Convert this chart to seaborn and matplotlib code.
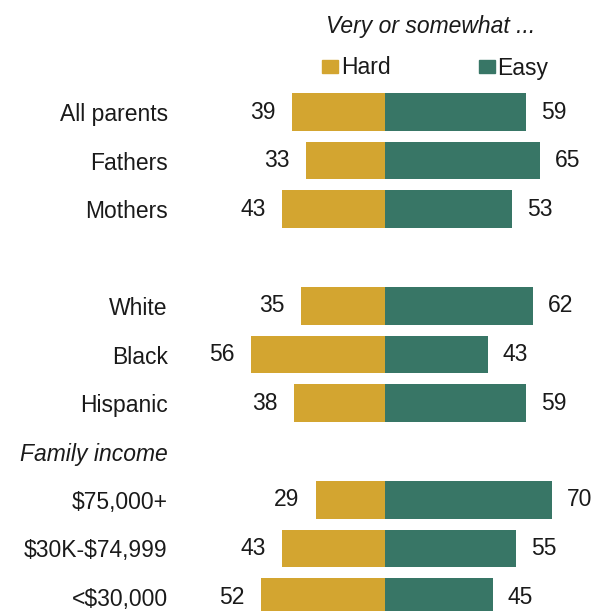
import matplotlib
matplotlib.use("Agg")
import matplotlib.pyplot as plt
import numpy as np
import pandas as pd
import seaborn as sns

# ---- data ----
sections = [
    ["All parents", "Fathers", "Mothers"],
    ["White", "Black", "Hispanic"],
    ["$75,000+", "$30K-$74,999", "<$30,000"],
]
section_titles = ["", "", "Family income"]
hard = [39, 33, 43, 35, 56, 38, 29, 43, 52]
easy = [59, 65, 53, 62, 43, 59, 70, 55, 45]
legend_title = "Very or somewhat ..."
series_names = ["Hard", "Easy"]

HARD_COLOR = "#D3A530"
EASY_COLOR = "#387666"
TEXT_COLOR = "#1a1a1a"
FS = 16.5

sns.set_style("white")
plt.rcParams["font.family"] = ["Liberation Sans", "DejaVu Sans"]
plt.rcParams["text.parse_math"] = False

# row positions: one spacer row before each section after the first
groups, pos, tick_pos, tick_lab, italic_pos = [], [], [], [], []
row = 0
for i, (sec, title) in enumerate(zip(sections, section_titles)):
    if i > 0:
        if title:
            tick_pos.append(row)
            tick_lab.append(title)
            italic_pos.append(row)
        row += 1
    for g in sec:
        groups.append(g)
        pos.append(row)
        tick_pos.append(row)
        tick_lab.append(g)
        row += 1

df = pd.DataFrame({
    "pos": pos * 2,
    "value": [-h for h in hard] + easy,
    "kind": [series_names[0]] * len(hard) + [series_names[1]] * len(easy),
})

W, H = 600, 611
fig = plt.figure(figsize=(W / 100, H / 100), dpi=100)
left_px = 176
ax = fig.add_axes([left_px / W, 0, 1 - left_px / W, 1])

sns.barplot(
    data=df, x="value", y="pos", hue="kind", hue_order=series_names,
    orient="h", native_scale=True, dodge=False,
    palette={series_names[0]: HARD_COLOR, series_names[1]: EASY_COLOR},
    saturation=1, width=0.78, linewidth=0, errorbar=None, legend=False, ax=ax,
)

ppu = 2.39  # pixels per percentage unit
center_px = 385
ax.set_xlim(-(center_px - left_px) / ppu, (W - center_px) / ppu)
row_px, top_px = 48.5, 112
ax.set_ylim((H - top_px) / row_px, -top_px / row_px)

pads = [12.0, 10.8]
for cont, pad in zip(ax.containers, pads):
    ax.bar_label(cont, fmt=lambda v: f"{abs(v):.0f}", padding=pad,
                 fontsize=FS, color=TEXT_COLOR)

ax.set_yticks(tick_pos)
ax.set_yticklabels(tick_lab, fontsize=FS, color=TEXT_COLOR)
for t, p in zip(ax.get_yticklabels(), tick_pos):
    if p in italic_pos:
        t.set_style("italic")
ax.tick_params(axis="y", length=0, pad=6)
ax.set_xticks([])
ax.set_xlabel("")
ax.set_ylabel("")
for s in ax.spines.values():
    s.set_visible(False)

fig.text(431 / W, 1 - 27 / H, legend_title, ha="center", va="center",
         fontsize=FS, style="italic", color=TEXT_COLOR)

handles = [plt.Rectangle((0, 0), 1, 1, color=c) for c in (HARD_COLOR, EASY_COLOR)]
fig.legend(handles, series_names, loc="center left",
           bbox_to_anchor=(322 / W, 1 - 68 / H), ncol=2, frameon=False,
           fontsize=FS, handlelength=0.7, handleheight=0.52,
           handletextpad=0.12, columnspacing=3.85, borderpad=0,
           borderaxespad=0, labelcolor=TEXT_COLOR)

fig.savefig("out.png", dpi=100)
